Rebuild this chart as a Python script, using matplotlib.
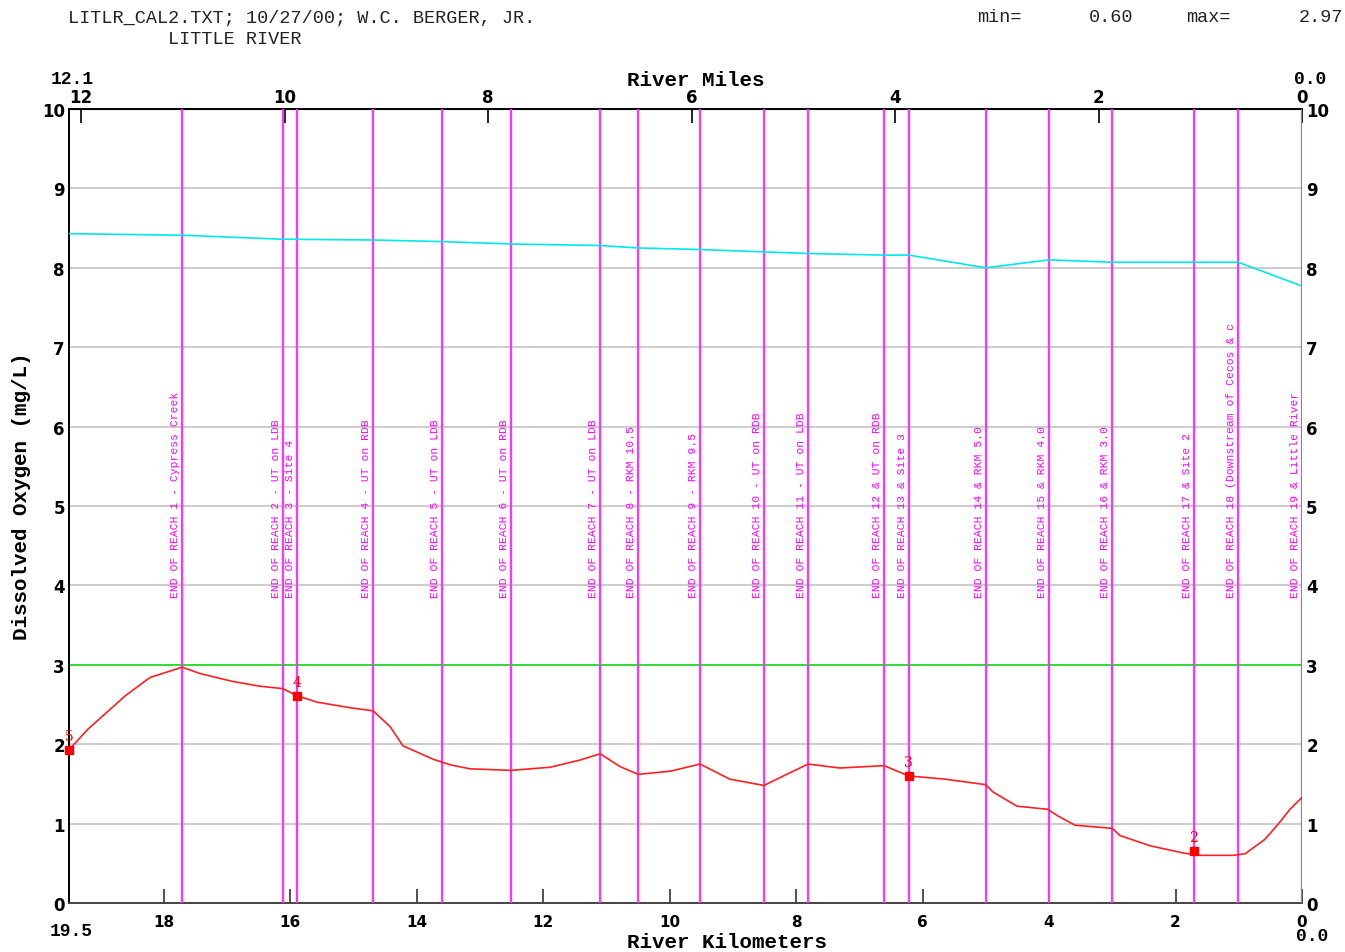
import matplotlib
matplotlib.use("Agg")
import matplotlib.pyplot as plt

# ---- data ----
do_km = [19.5, 19.2, 18.61, 18.22, 17.71, 17.43, 16.91, 16.48, 16.12, 15.89,
         15.58, 15.06, 14.69, 14.42, 14.22, 13.74, 13.47, 13.16, 12.51, 11.89,
         11.42, 11.10, 10.79, 10.50, 9.99, 9.52, 9.05, 8.51, 8.10, 7.81,
         7.31, 6.61, 6.22, 5.65, 5.00, 4.89, 4.51, 4.02, 3.87, 3.59,
         3.00, 2.88, 2.40, 1.88, 1.61, 1.09, 0.90, 0.59, 0.38, 0.19, 0.00]
do_val = [1.93, 2.19, 2.61, 2.84, 2.97, 2.89, 2.79, 2.73, 2.70, 2.61,
          2.53, 2.46, 2.42, 2.22, 1.98, 1.81, 1.74, 1.69, 1.67, 1.71,
          1.80, 1.88, 1.72, 1.62, 1.66, 1.75, 1.56, 1.48, 1.64, 1.75,
          1.70, 1.73, 1.60, 1.56, 1.49, 1.40, 1.22, 1.18, 1.10, 0.98,
          0.94, 0.85, 0.72, 0.63, 0.60, 0.60, 0.62, 0.80, 0.99, 1.18, 1.33]

sat_km = [19.5, 17.71, 16.12, 14.69, 13.60, 12.51, 11.10, 10.50, 9.52, 8.51,
          7.81, 6.61, 6.22, 5.00, 4.00, 3.00, 1.71, 1.01, 0.00]
sat_val = [8.43, 8.41, 8.36, 8.35, 8.33, 8.30, 8.28, 8.25, 8.23, 8.20,
           8.18, 8.16, 8.16, 8.00, 8.10, 8.07, 8.07, 8.07, 7.77]

obs_km = [19.5, 15.89, 6.22, 1.71]
obs_val = [1.93, 2.61, 1.60, 0.66]
obs_site = ["5", "4", "3", "2"]

standard = 3.0

reach_km = [17.71, 16.12, 15.89, 14.69, 13.60, 12.51, 11.10, 10.50, 9.52, 8.51,
            7.81, 6.61, 6.22, 5.00, 4.00, 3.00, 1.71, 1.01, 0.00]
reach_labels = [
    "END OF REACH 1 - Cypress Creek",
    "END OF REACH 2 - UT on LDB",
    "END OF REACH 3 - Site 4",
    "END OF REACH 4 - UT on RDB",
    "END OF REACH 5 - UT on LDB",
    "END OF REACH 6 - UT on RDB",
    "END OF REACH 7 - UT on LDB",
    "END OF REACH 8 - RKM 10.5",
    "END OF REACH 9 - RKM 9.5",
    "END OF REACH 10 - UT on RDB",
    "END OF REACH 11 - UT on LDB",
    "END OF REACH 12 & UT on RDB",
    "END OF REACH 13 & Site 3",
    "END OF REACH 14 & RKM 5.0",
    "END OF REACH 15 & RKM 4.0",
    "END OF REACH 16 & RKM 3.0",
    "END OF REACH 17 & Site 2",
    "END OF REACH 18 (Downstream of Cecos & c",
    "END OF REACH 19 & Little River",
]

km_ticks = [18, 16, 14, 12, 10, 8, 6, 4, 2, 0]
mile_ticks = [12, 10, 8, 6, 4, 2, 0]
do_ticks = list(range(0, 11))

KM_PER_MI = 1.609

mono = "Liberation Mono"
tickfont = dict(family="DejaVu Sans", weight="bold", size=11)

fig = plt.figure(figsize=(13.45, 9.53), dpi=100)
ax = fig.add_axes([69 / 1345, 49 / 953, 1233 / 1345, 794 / 953])

ax.set_xlim(19.5, 0)
ax.set_ylim(0, 10)

for y in do_ticks[1:]:
    ax.axhline(y, color="#c8c8c8", lw=1.3, zorder=1)
ax.axhline(standard, color="#22e022", lw=1.3, zorder=2)

for km, lab in zip(reach_km, reach_labels):
    ax.axvline(km, color="#ff33ff", lw=1.6, zorder=3)
    ax.annotate(lab, (km, 3.85), xytext=(-2, 0), textcoords="offset pixels",
                rotation=90, ha="right", va="bottom", color="#ff00ff",
                fontsize=8.2, family=mono, zorder=4)

ax.plot(sat_km, sat_val, color="#00e8e8", lw=1.2, zorder=5)
ax.plot(do_km, do_val, color="#ff2020", lw=1.2, zorder=6)
ax.plot(obs_km, obs_val, "s", color="#ff0000", ms=6, zorder=7, clip_on=False)
for km, v, s in zip(obs_km, obs_val, obs_site):
    ax.annotate(s, (km, v), xytext=(0, 5), textcoords="offset points",
                ha="center", va="bottom", color="#ff0000", fontsize=10,
                family="DejaVu Serif", zorder=8)

# bottom axis: kilometers
ax.set_xticks(km_ticks)
ax.set_xticklabels([str(k) for k in km_ticks])
ax.tick_params(axis="x", direction="in", length=10, width=1.2, pad=8,
               color="#333333", labelsize=11)
for t in ax.get_xticklabels():
    t.set_fontfamily("DejaVu Sans")
    t.set_fontweight("bold")

ax.set_yticks(do_ticks)
ax.set_yticklabels([str(v) for v in do_ticks])
ax.tick_params(axis="y", length=0, pad=3, labelsize=12,
               right=True, labelright=True)
for t in ax.get_yticklabels():
    t.set_fontfamily("DejaVu Sans")
    t.set_fontweight("bold")

for side in ["left", "top", "bottom"]:
    ax.spines[side].set_linewidth(1.4)
ax.spines["bottom"].set_color("#444444")
ax.spines["right"].set_visible(False)

# top axis: miles
top = ax.secondary_xaxis("top", functions=(lambda k: k / KM_PER_MI,
                                           lambda m: m * KM_PER_MI))
top.set_xticks(mile_ticks)
top.set_xticklabels([str(m) for m in mile_ticks])
top.tick_params(direction="in", length=10, width=1.2, pad=2)
for t in top.get_xticklabels():
    t.set_fontfamily("DejaVu Sans")
    t.set_fontweight("bold")
    t.set_fontsize(12)

labfont = dict(family=mono, weight="bold", size=15)
fig.text(696 / 1345, 1 - 80 / 953, "River Miles", ha="center", va="center",
         **labfont)
fig.text(727 / 1345, 1 - 943 / 953, "River Kilometers", ha="center",
         va="center", **labfont)
fig.text(22 / 1345, 1 - 496 / 953, "Dissolved Oxygen (mg/L)", rotation=90,
         ha="center", va="center", **labfont)

# end labels
endfont = dict(family=mono, weight="bold", size=13)
fig.text(72 / 1345, 1 - 80 / 953, "12.1", ha="center", va="center", **endfont)
fig.text(1310 / 1345, 1 - 80 / 953, "0.0", ha="center", va="center", **endfont)
fig.text(71 / 1345, 1 - 932 / 953, "19.5", ha="center", va="center", **endfont)
fig.text(1312 / 1345, 1 - 937 / 953, "0.0", ha="center", va="center", **endfont)

# header
hdr = dict(family=mono, size=13.3, color="#222222")
fig.text(68 / 1345, 1 - 18 / 953, "LITLR_CAL2.TXT; 10/27/00; W.C. BERGER, JR.",
         ha="left", va="center", **hdr)
fig.text(168 / 1345, 1 - 40 / 953, "LITTLE RIVER", ha="left", va="center", **hdr)
fig.text(977 / 1345, 1 - 18 / 953, "min=", ha="left", va="center", **hdr)
fig.text(1133 / 1345, 1 - 18 / 953, f"{min(do_val):.2f}", ha="right",
         va="center", **hdr)
fig.text(1186 / 1345, 1 - 18 / 953, "max=", ha="left", va="center", **hdr)
fig.text(1343 / 1345, 1 - 18 / 953, f"{max(do_val):.2f}", ha="right",
         va="center", **hdr)

fig.savefig("out.png", dpi=100)
